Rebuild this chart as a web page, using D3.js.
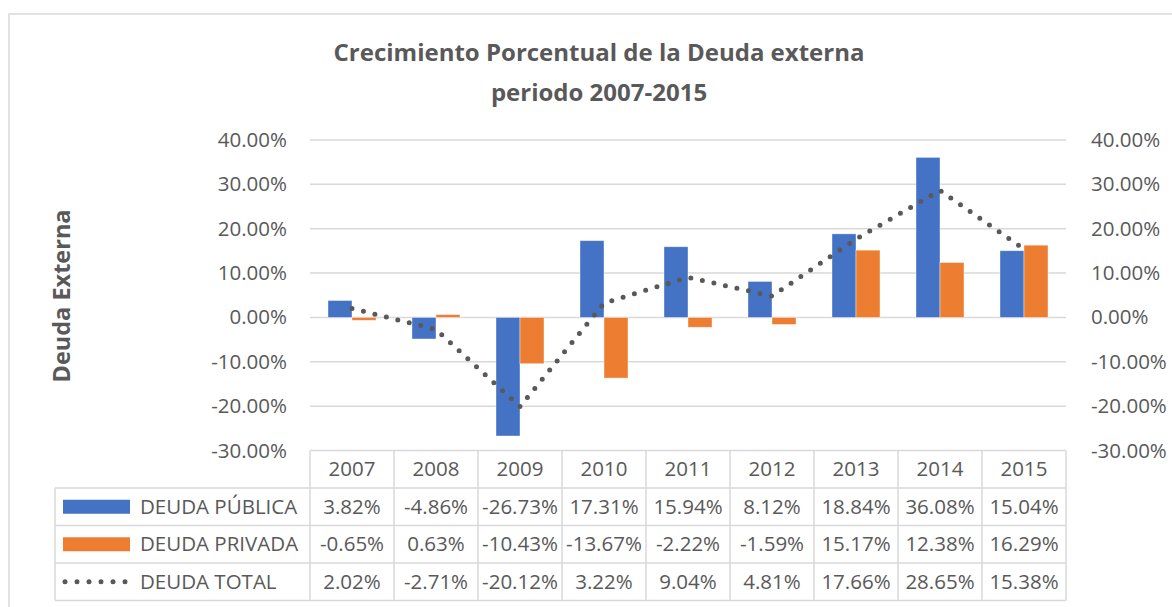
<!DOCTYPE html>
<html>
<head>
<meta charset="utf-8">
<script src="https://cdn.jsdelivr.net/npm/d3@7"></script>
<style>
  html, body { margin: 0; padding: 0; background: #fff; }
  svg { display: block; }
</style>
</head>
<body>
<div id="chart"></div>
<script>
const years = ["2007", "2008", "2009", "2010", "2011", "2012", "2013", "2014", "2015"];
const deudaPublica = [3.82, -4.86, -26.73, 17.31, 15.94, 8.12, 18.84, 36.08, 15.04];
const deudaPrivada = [-0.65, 0.63, -10.43, -13.67, -2.22, -1.59, 15.17, 12.38, 16.29];
const deudaTotal = [2.02, -2.71, -20.12, 3.22, 9.04, 4.81, 17.66, 28.65, 15.38];
const yTicks = [40, 30, 20, 10, 0, -10, -20, -30];
const seriesNames = ["DEUDA PÚBLICA", "DEUDA PRIVADA", "DEUDA TOTAL"];

const W = 1172, H = 607;
const textColor = "#595959";
const gridColor = "#d9d9d9";
const blue = "#4472C4", orange = "#ED7D31";
const font = "'Open Sans', 'Noto Sans', sans-serif";

const plotLeft = 310, plotRight = 1066, plotTop = 140, plotBottom = 450.5;

const svg = d3.select("#chart").append("svg")
    .attr("width", W)
    .attr("height", H)
    .style("font-family", font);

// chart frame
svg.append("rect")
    .attr("x", 9).attr("y", 14)
    .attr("width", 1250).attr("height", 700)
    .attr("fill", "none")
    .attr("stroke", gridColor)
    .attr("stroke-width", 1.5);

const x = d3.scaleBand().domain(years).range([plotLeft, plotRight]).padding(0);
const xs = d3.scaleBand().domain(["pub", "priv"]).range([0, x.bandwidth()]).paddingInner(0).paddingOuter(0.75);
const y = d3.scaleLinear().domain([-30, 40]).range([plotBottom, plotTop]);

// title
const title = svg.append("text")
    .attr("text-anchor", "middle")
    .attr("fill", textColor)
    .attr("font-weight", "bold")
    .attr("font-size", 24);
title.append("tspan").attr("x", 599).attr("y", 61).text("Crecimiento Porcentual de la Deuda externa");
title.append("tspan").attr("x", 599).attr("y", 101).text("periodo 2007-2015");

// y axis title
svg.append("text")
    .attr("transform", `translate(70, 296) rotate(-90)`)
    .attr("text-anchor", "middle")
    .attr("fill", textColor)
    .attr("font-weight", "bold")
    .attr("font-size", 23.5)
    .text("Deuda Externa");

// gridlines (the -30% line is the table's top border)
svg.append("g").selectAll("line")
    .data(yTicks.filter(d => d > -30))
    .join("line")
    .attr("x1", plotLeft).attr("x2", plotRight)
    .attr("y1", d => y(d)).attr("y2", d => y(d))
    .attr("stroke", gridColor)
    .attr("stroke-width", 1.5);

// left and right axes
const fmt = d => d.toFixed(2) + "%";
const leftAxis = svg.append("g")
    .attr("transform", `translate(${plotLeft - 23}, 0)`)
    .call(d3.axisLeft(y).tickValues(yTicks).tickFormat(fmt).tickSize(0).tickPadding(0));
const rightAxis = svg.append("g")
    .attr("transform", `translate(${plotRight + 25}, 0)`)
    .call(d3.axisRight(y).tickValues(yTicks).tickFormat(fmt).tickSize(0).tickPadding(0));
[leftAxis, rightAxis].forEach(a => {
    a.select(".domain").remove();
    a.selectAll("text")
        .attr("fill", textColor)
        .attr("font-size", 20.5)
        .attr("font-family", font);
});

// bars
const barData = years.map((yr, i) => [
    { yr, key: "pub", v: deudaPublica[i] },
    { yr, key: "priv", v: deudaPrivada[i] }
]).flat();

svg.append("g").selectAll("rect")
    .data(barData)
    .join("rect")
    .attr("x", d => x(d.yr) + xs(d.key))
    .attr("width", xs.bandwidth())
    .attr("y", d => y(Math.max(0, d.v)))
    .attr("height", d => Math.abs(y(d.v) - y(0)))
    .attr("fill", d => d.key === "pub" ? blue : orange)
    .attr("stroke", "#ffffff")
    .attr("stroke-opacity", 0.5)
    .attr("stroke-width", 0.8);

// dotted total line
const line = d3.line()
    .x((d, i) => x(years[i]) + x.bandwidth() / 2)
    .y(d => y(d));
svg.append("path")
    .datum(deudaTotal)
    .attr("d", line)
    .attr("fill", "none")
    .attr("stroke", textColor)
    .attr("stroke-width", 5)
    .attr("stroke-linecap", "round")
    .attr("stroke-dasharray", "0 11.8");

// data table
const tableTop = plotBottom;
const rowH = 37.5;
const legendLeft = 55;
const rows = [deudaPublica, deudaPrivada, deudaTotal];
const tbl = svg.append("g");

// horizontal lines
tbl.append("line")
    .attr("x1", plotLeft).attr("x2", plotRight)
    .attr("y1", tableTop).attr("y2", tableTop);
d3.range(1, 5).forEach(r => {
    tbl.append("line")
        .attr("x1", legendLeft).attr("x2", plotRight)
        .attr("y1", tableTop + r * rowH).attr("y2", tableTop + r * rowH);
});
// vertical lines
tbl.append("line")
    .attr("x1", legendLeft).attr("x2", legendLeft)
    .attr("y1", tableTop + rowH).attr("y2", tableTop + 4 * rowH);
years.concat(["end"]).forEach(yr => {
    const xx = yr === "end" ? plotRight : x(yr);
    tbl.append("line")
        .attr("x1", xx).attr("x2", xx)
        .attr("y1", tableTop).attr("y2", tableTop + 4 * rowH);
});
tbl.selectAll("line").attr("stroke", gridColor).attr("stroke-width", 1.5);

// header
tbl.append("g").selectAll("text")
    .data(years)
    .join("text")
    .attr("x", d => x(d) + x.bandwidth() / 2)
    .attr("y", tableTop + rowH / 2)
    .attr("dy", "0.35em")
    .attr("text-anchor", "middle")
    .attr("fill", textColor)
    .attr("font-size", 20.5)
    .text(d => d);

// values
rows.forEach((vals, r) => {
    tbl.append("g").selectAll("text")
        .data(vals)
        .join("text")
        .attr("x", (d, i) => x(years[i]) + x.bandwidth() / 2)
        .attr("y", tableTop + (r + 1.5) * rowH)
        .attr("dy", "0.35em")
        .attr("text-anchor", "middle")
        .attr("fill", textColor)
        .attr("font-size", 20.5)
        .text(d => d.toFixed(2) + "%");
});

// legend keys
seriesNames.forEach((name, r) => {
    const cy = tableTop + (r + 1.5) * rowH;
    if (r < 2) {
        tbl.append("rect")
            .attr("x", 63).attr("y", cy - 7)
            .attr("width", 67).attr("height", 14)
            .attr("fill", r === 0 ? blue : orange);
    } else {
        tbl.append("line")
            .attr("x1", 65).attr("x2", 130)
            .attr("y1", cy).attr("y2", cy)
            .attr("stroke", textColor)
            .attr("stroke-width", 5)
            .attr("stroke-linecap", "round")
            .attr("stroke-dasharray", "0 12");
    }
    tbl.append("text")
        .attr("x", 140)
        .attr("y", cy)
        .attr("dy", "0.35em")
        .attr("fill", textColor)
        .attr("font-size", 20.5)
        .text(name);
});
</script>
</body>
</html>
